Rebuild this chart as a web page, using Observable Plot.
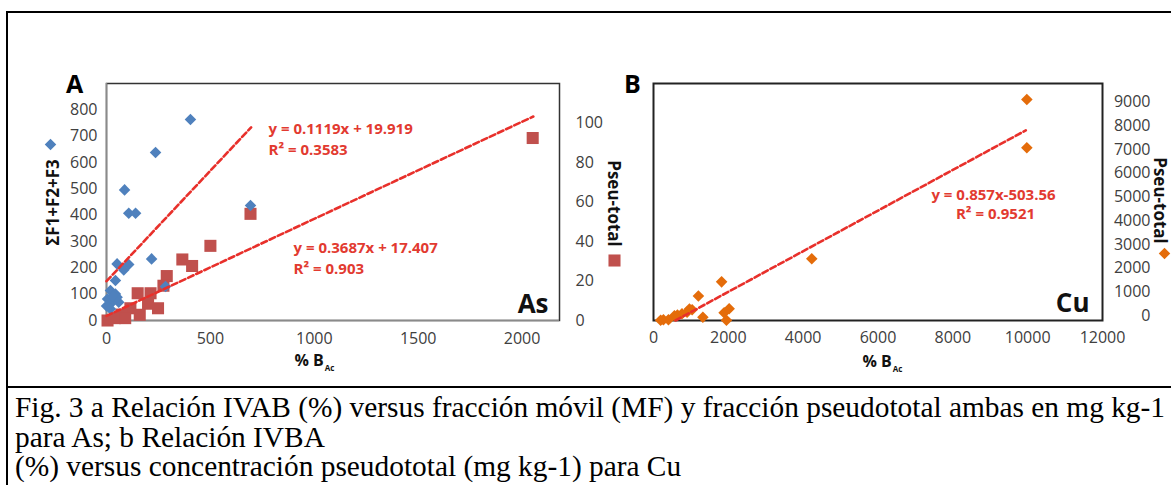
<!DOCTYPE html>
<html>
<head>
<meta charset="utf-8">
<script src="https://cdn.jsdelivr.net/npm/d3@7"></script>
<script src="https://cdn.jsdelivr.net/npm/@observablehq/plot@0.6"></script>
<style>
  body { margin: 0; background: #fff; }
  #root { position: relative; width: 1171px; height: 485px; overflow: hidden; background: #fff; }
  .panel { position: absolute; top: 12px; }
  #panelA { left: 0; }
  #panelB { left: 630px; }
  .rule { position: absolute; background: #000; }
  #caption { position: absolute; left: 15px; top: 393px; font-family: "Liberation Serif", "Times New Roman", serif;
             font-size: 29px; line-height: 29.5px; color: #000; white-space: nowrap; }
  #caption div { transform-origin: 0 50%; width: max-content; height: 29.5px; }
</style>
</head>
<body>
<div id="root">
  <div class="rule" style="left:6px;top:11px;width:1165px;height:2px"></div>
  <div class="rule" style="left:6px;top:11px;width:2px;height:474px"></div>
  <div class="rule" style="left:6px;top:386px;width:1165px;height:2px"></div>
  <div id="panelA" class="panel"></div>
  <div id="panelB" class="panel"></div>
  <div id="caption"></div>
</div>
<script>
// ---------- Panel A (As) ----------
// mobile fraction ΣF1+F2+F3 (left axis) vs % B_Ac
const asMobileX = [404, 236, 87, 107, 140, 693, 217, 51, 107, 83, 43, 284, 19, 43, 5, 27, 0, 59, 19, 51, 30];
const asMobileY = [763, 638, 496, 407, 407, 437, 234, 215, 213, 192, 152, 129, 114, 101, 82, 69, 55, 69, 44, 88, 92];
// pseudo-total (right axis) vs % B_Ac
const asPseuX = [2051, 693, 500, 365, 412, 290, 274, 150, 212, 200, 248, 115, 160, 72, 5, 40, 90];
const asPseuY = [92.4, 54, 37.8, 30.9, 27.6, 22.5, 17.6, 13.8, 13.8, 8.5, 6.2, 6.2, 2.9, 3, 0, 1.2, 1.2];
// trend line endpoints
const asTrend1X = [0, 696];   // right-axis units
const asTrend1Y = [19.9, 97.8];
const asTrend2X = [0, 2054];  // left-axis units
const asTrend2Y = [17.4, 774.7];
const asXTicks = [0, 500, 1000, 1500, 2000];
const asLeftTicks = [0, 100, 200, 300, 400, 500, 600, 700, 800];
const asRightTicks = [0, 20, 40, 60, 80, 100];
const asEq1 = ["y = 0.1119x + 19.919", "R² = 0.3583"];
const asEq2 = ["y = 0.3687x + 17.407", "R² = 0.903"];

// ---------- Panel B (Cu) ----------
const cuX = [9978, 9978, 4230, 1820, 1200, 1032, 960, 897, 762, 640, 560, 400, 265, 190, 1320, 1887, 2022, 1950];
const cuY = [9325, 7287, 2603, 1630, 1030, 451, 480, 350, 283, 230, 200, 30, 30, 10, 139, 330, 494, 10];
const cuTrendX = [588, 9950];
const cuTrendY = [0, 8024];
const cuXTicks = [0, 2000, 4000, 6000, 8000, 10000, 12000];
const cuYTicks = [0, 1000, 2000, 3000, 4000, 5000, 6000, 7000, 8000, 9000];
const cuEq = ["y = 0.857x-503.56", "R² = 0.9521"];

const captionLines = [
  "Fig. 3 a Relación IVAB (%) versus fracción móvil (MF) y fracción pseudototal ambas en mg kg-1",
  "para As; b Relación IVBA",
  "(%) versus concentración pseudototal (mg kg-1) para Cu"
];

// ---------- build ----------
const BLUE = "#4f81bd", RED = "#c0504d", ORANGE = "#e46c0a", TREND = "#e8302b", EQ = "#e23a30";
const k = 900 / 120; // right-axis -> left-axis factor

const mobile = asMobileX.map((x, i) => ({x, y: asMobileY[i]}));
const pseu = asPseuX.map((x, i) => ({x, y: asPseuY[i]}));
const t1 = asTrend1X.map((x, i) => ({x, y: asTrend1Y[i]}));
const t2 = asTrend2X.map((x, i) => ({x, y: asTrend2Y[i]}));
const cu = cuX.map((x, i) => ({x, y: cuY[i]}));
const tcu = cuTrendX.map((x, i) => ({x, y: cuTrendY[i]}));

const txt = (s, o) => Plot.text([s], {text: d => d, ...o});

const plotA = Plot.plot({
  width: 630, height: 370,
  marginLeft: 106, marginRight: 71, marginTop: 71, marginBottom: 62,
  x: {domain: [0, 2180]},
  y: {domain: [0, 900]},
  style: {fontFamily: "Open Sans", fontSize: "16px", color: "#404040", background: "transparent", overflow: "visible"},
  marks: [
    Plot.frame({stroke: "#333", strokeWidth: 1.5}),
    Plot.ruleX([0], {stroke: "#8a8a8a", strokeWidth: 1.5}),
    Plot.ruleY([0], {stroke: "#8a8a8a", strokeWidth: 1.5}),
    Plot.axisX({ticks: asXTicks, tickSize: 0, tickPadding: 12, tickFormat: "d", label: null}),
    Plot.axisY({ticks: asLeftTicks, tickSize: 0, tickPadding: 9, tickFormat: "d", label: null}),
    Plot.axisY({anchor: "right", ticks: asRightTicks.map(v => v * k), tickSize: 0, tickPadding: 16,
                tickFormat: d => String(Math.round(d / k)), label: null}),
    Plot.dot(pseu, {x: "x", y: d => d.y * k, symbol: "square", r: 6.8, fill: RED}),
    Plot.dot(mobile, {x: "x", y: "y", symbol: "diamond2", r: 5.2, fill: BLUE}),
    Plot.line(t1, {x: "x", y: d => d.y * k, stroke: TREND, strokeWidth: 2.6, strokeDasharray: "6,3"}),
    Plot.line(t2, {x: "x", y: "y", stroke: TREND, strokeWidth: 2.6, strokeDasharray: "6,3"}),
    txt("A", {frameAnchor: "top-left", dx: -32, dy: 1, fontSize: 25, fontWeight: "bold", fill: "#000", textAnchor: "middle", lineAnchor: "middle"}),
    txt("ΣF1+F2+F3", {frameAnchor: "left", dx: -53, dy: 0.5, rotate: -90, fontSize: 17, fontWeight: "bold", fill: "#111", textAnchor: "middle", lineAnchor: "middle"}),
    Plot.dot([0], {frameAnchor: "left", dx: -56, dy: -57.5, symbol: "diamond2", r: 5.2, fill: BLUE}),
    txt("Pseu-total", {frameAnchor: "right", dx: 54, dy: 1.5, rotate: 90, fontSize: 17, fontWeight: "bold", fill: "#111", textAnchor: "middle", lineAnchor: "middle"}),
    Plot.dot([0], {frameAnchor: "right", dx: 55, dy: 58.5, symbol: "square", r: 6.8, fill: RED}),
    txt("As", {frameAnchor: "bottom-right", dx: -11, dy: -8, fontSize: 26, fontWeight: "bold", fill: "#111", textAnchor: "end", lineAnchor: "bottom"}),
    txt(asEq1[0], {frameAnchor: "top-left", dx: 162, dy: 40, fontSize: 15, fontWeight: "bold", fill: EQ, textAnchor: "start"}),
    txt(asEq1[1], {frameAnchor: "top-left", dx: 162, dy: 61, fontSize: 15, fontWeight: "bold", fill: EQ, textAnchor: "start"}),
    txt(asEq2[0], {frameAnchor: "top-left", dx: 187, dy: 159, fontSize: 15, fontWeight: "bold", fill: EQ, textAnchor: "start"}),
    txt(asEq2[1], {frameAnchor: "top-left", dx: 187, dy: 180, fontSize: 15, fontWeight: "bold", fill: EQ, textAnchor: "start"}),
    txt("% B", {frameAnchor: "bottom-left", dx: 188, dy: 45, fontSize: 16, fontWeight: "bold", fill: "#111", textAnchor: "start"})
  ]
});
document.getElementById("panelA").append(plotA);

const plotB = Plot.plot({
  width: 541, height: 370,
  marginLeft: 23, marginRight: 69, marginTop: 71, marginBottom: 62,
  x: {domain: [0, 12000]},
  y: {domain: [0, 10000]},
  style: {fontFamily: "Open Sans", fontSize: "16px", color: "#404040", background: "transparent", overflow: "visible"},
  marks: [
    Plot.frame({stroke: "#222", strokeWidth: 2}),
    Plot.axisX({ticks: cuXTicks, tickSize: 0, tickPadding: 11, tickFormat: "d", label: null}),
    Plot.axisY({anchor: "right", ticks: cuYTicks, tickSize: 0, tickPadding: 48, textAnchor: "end", dy: -5, tickFormat: "d", label: null}),
    Plot.dot(cu, {x: "x", y: "y", symbol: "diamond2", r: 5.2, fill: ORANGE}),
    Plot.line(tcu, {x: "x", y: "y", stroke: TREND, strokeWidth: 2.6, strokeDasharray: "6,3"}),
    txt("B", {frameAnchor: "top-left", dx: -21, dy: 1, fontSize: 25, fontWeight: "bold", fill: "#000", textAnchor: "middle", lineAnchor: "middle"}),
    txt(cuEq[0], {frameAnchor: "top-left", dx: 340, dy: 106, fontSize: 15, fontWeight: "bold", fill: EQ, textAnchor: "middle"}),
    txt(cuEq[1], {frameAnchor: "top-left", dx: 342, dy: 125, fontSize: 15, fontWeight: "bold", fill: EQ, textAnchor: "middle"}),
    txt("Cu", {frameAnchor: "bottom-right", dx: -13, dy: -9, fontSize: 26, fontWeight: "bold", fill: "#111", textAnchor: "end", lineAnchor: "bottom"}),
    txt("Pseu-total", {frameAnchor: "right", dx: 57, dy: -1.5, rotate: 90, fontSize: 17, fontWeight: "bold", fill: "#111", textAnchor: "middle", lineAnchor: "middle"}),
    Plot.dot([0], {frameAnchor: "right", dx: 62, dy: 51.5, symbol: "diamond2", r: 5.2, fill: ORANGE}),
    txt("% B", {frameAnchor: "bottom-left", dx: 209, dy: 46, fontSize: 16, fontWeight: "bold", fill: "#111", textAnchor: "start"})
  ]
});
document.getElementById("panelB").append(plotB);

// subscript "Ac" on the x-axis titles
[plotA, plotB].forEach(svg => {
  svg.querySelectorAll("text").forEach(t => {
    if (t.textContent === "% B") {
      const ts = document.createElementNS("http://www.w3.org/2000/svg", "tspan");
      ts.setAttribute("font-size", "8");
      ts.setAttribute("dy", "5");
      ts.setAttribute("dx", "1");
      ts.textContent = "Ac";
      t.appendChild(ts);
    }
  });
});

// caption
const cap = document.getElementById("caption");
captionLines.forEach(s => { const d = document.createElement("div"); d.textContent = s; cap.append(d); });
const first = cap.firstChild;
const w = first.getBoundingClientRect().width;
const sx = 1150 / w;
cap.querySelectorAll("div").forEach(d => d.style.transform = `scaleX(${sx})`);
</script>
</body>
</html>
